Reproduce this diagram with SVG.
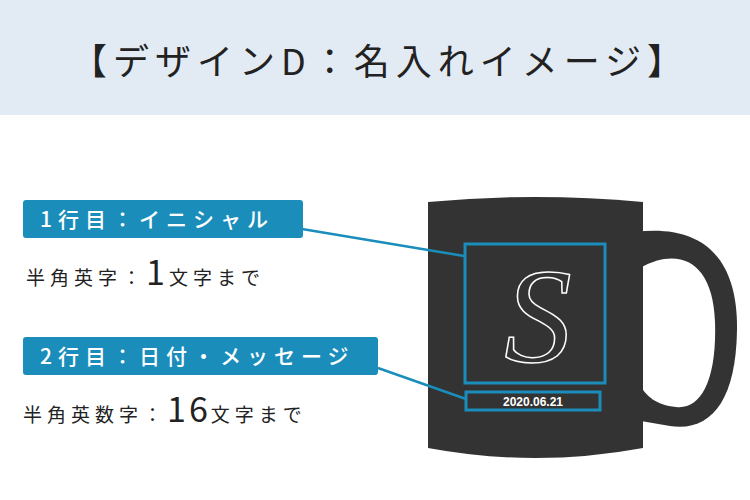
<svg xmlns="http://www.w3.org/2000/svg" width="750" height="500" viewBox="0 0 750 500">
<style>
.jp{font-family:"Noto Sans CJK JP","Noto Sans",sans-serif}
.lab{fill:#1a8dbb}
.lt{fill:#fff;font-size:21px;font-weight:500;letter-spacing:6px}
.bt{fill:#222;font-size:19px;letter-spacing:5px}
.con{stroke:#1a8dbb;stroke-width:2.5;fill:none}
</style>
<rect width="750" height="500" fill="#fff"/>
<rect width="750" height="115" fill="#e2ebf3"/>
<text x="380" y="75" text-anchor="middle" class="jp" font-size="36" fill="#222" letter-spacing="6">【デザインD：名入れイメージ】</text>
<g id="mug">
<path d="M635,232 C700,224 738,255 737,330 C736,402 710,432 670,426 L635,420 Z" fill="#333"/>
<path d="M640,268 C680,246 713,262 715,322 C717,382 700,410 676,407 C656,405 646,396 640,385 Z" fill="#fff"/>
<path d="M428,202 Q535,192 643,202 L643,448 Q535,468 428,448 Z" fill="#333"/>
</g>
<g id="initial">
<rect x="465" y="244" width="140" height="139" fill="none" stroke="#1a8dbb" stroke-width="3"/>
<text x="538" y="362" text-anchor="middle" font-family="Liberation Serif,serif" font-style="italic" font-size="135" fill="none" stroke="#fff" stroke-width="1.5">S</text>
</g>
<g id="date">
<rect x="466" y="392" width="134" height="18" fill="none" stroke="#1a8dbb" stroke-width="3"/>
<text x="533" y="406" text-anchor="middle" font-family="Liberation Sans,sans-serif" font-weight="bold" font-size="12" fill="#fff">2020.06.21</text>
</g>
<g id="label1">
<rect x="23" y="200" width="280" height="38" rx="3" class="lab"/>
<text x="40" y="227" class="jp lt">1行目：イニシャル</text>
<text x="26" y="285" class="jp bt">半角英字：<tspan font-size="34" letter-spacing="4">1</tspan>文字まで</text>
</g>
<g id="label2">
<rect x="23" y="337" width="355" height="38" rx="3" class="lab"/>
<text x="40" y="364" class="jp lt">2行目：日付・メッセージ</text>
<text x="23" y="422" class="jp bt">半角英数字：<tspan font-size="34" letter-spacing="3">16</tspan>文字まで</text>
</g>
<g id="connectors">
<path class="con" d="M302,229 L464,256"/>
<path class="con" d="M378,368 L466,399"/>
</g>
</svg>
